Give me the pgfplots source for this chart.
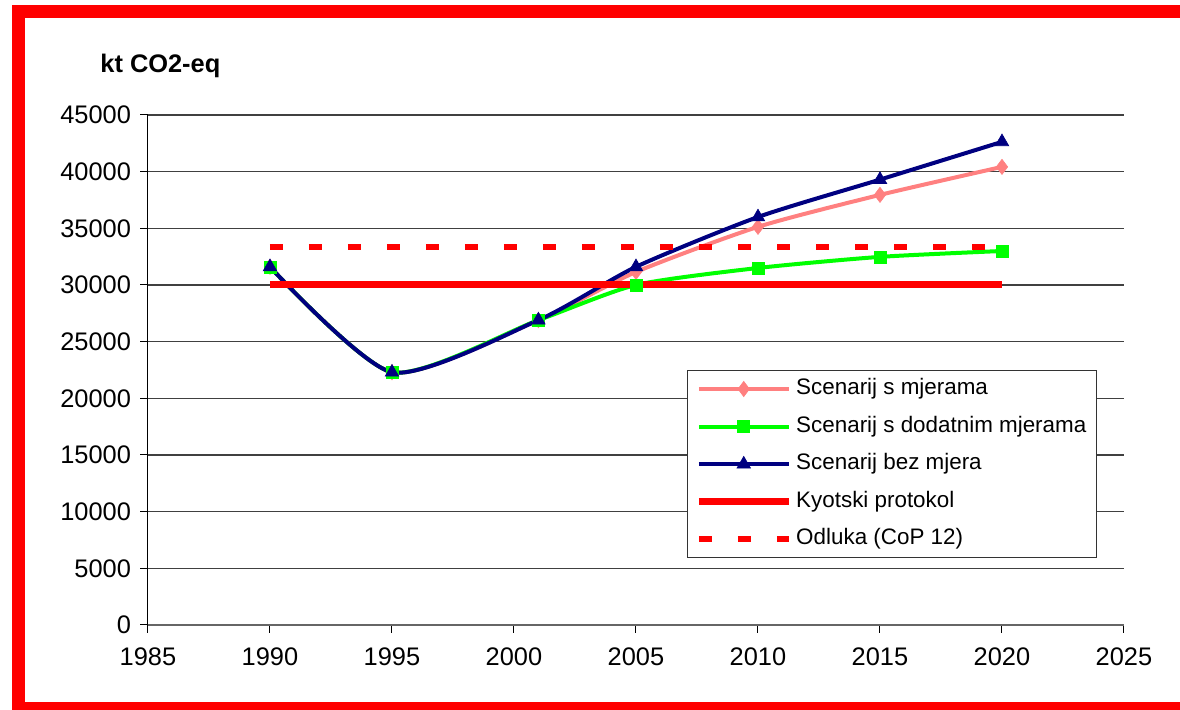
\documentclass[border=0pt]{standalone}
\usepackage{pgfplots}
\pgfplotsset{compat=1.18}
\usepackage{fontspec}
\setmainfont{Liberation Sans}
\definecolor{cpink}{HTML}{FF8080}
\definecolor{cgreen}{HTML}{00FF00}
\definecolor{cnavy}{HTML}{000080}
\definecolor{cred}{HTML}{FF0000}
\begin{document}
\begin{tikzpicture}
\path[use as bounding box] (0pt,0pt) rectangle (590pt,355pt);
% red frame
\fill[cred] (6pt,0pt) rectangle (12.5pt,352.5pt);
\fill[cred] (6pt,352.5pt) rectangle (590pt,346pt);
\fill[cred] (6pt,0pt) rectangle (590pt,4pt);
\node[anchor=base west, inner sep=0pt, font=\fontsize{12.7}{15}\selectfont\bfseries] at (50pt,318.5pt) {kt CO2-eq};
\begin{axis}[
  at={(74pt,42.5pt)}, anchor=south west,
  scale only axis, width=488pt, height=255pt,
  xmin=1985, xmax=2025, ymin=0, ymax=45000,
  xtick={1985,1990,...,2025},
  ytick={0,5000,...,45000},
  axis x line*=bottom, axis y line*=left,
  x axis line style={black!60, line width=0.7pt},
  y axis line style={black, line width=0.5pt},
  tick align=outside, major tick length=4pt,
  tick style={black, line width=0.5pt},
  ymajorgrids, major grid style={black!75, line width=0.6pt},
  /pgf/number format/assume math mode=true,
  /pgf/number format/1000 sep={},
  scaled y ticks=false,
  tick label style={font=\fontsize{12.7}{15}\selectfont},
  xticklabel style={yshift=-4pt},
  yticklabel style={xshift=-1pt},
  clip=false,
  legend style={at={(0.552,0.5)}, anchor=north west, draw=black!80, line width=0.5pt,
    font=\fontsize{11.2}{13}\selectfont, row sep=6.3pt, inner xsep=4pt, inner ysep=3pt,
    nodes={inner sep=1pt, text height=8pt, text depth=2.5pt},
    /tikz/every odd column/.append style={column sep=1pt}},
  legend cell align=left,
  legend image code/.code={\draw[mark repeat=2,mark phase=2] plot coordinates {(0pt,0pt) (22.5pt,0pt) (45pt,0pt)};},
]
\addplot[cpink, line width=2pt, smooth, tension=0.4, mark=diamond*, mark size=3.8pt, mark options={solid, fill=cpink, draw=cpink, line width=0.3pt}]
  coordinates {(1990,31600) (1995,22300) (2001,26900) (2005,31150) (2010,35130) (2015,37950) (2020,40420)};
\addlegendentry{Scenarij s mjerama}
\addplot[cgreen, line width=2pt, smooth, tension=0.4, mark=square*, mark size=3pt, mark options={solid, fill=cgreen, draw=cgreen, line width=0.3pt}]
  coordinates {(1990,31600) (1995,22300) (2001,26900) (2005,30000) (2010,31500) (2015,32480) (2020,33000)};
\addlegendentry{Scenarij s dodatnim mjerama}
\addplot[cnavy, line width=2pt, smooth, tension=0.4, mark=triangle*, mark size=3.9pt, mark options={solid, fill=cnavy, draw=cnavy, line width=0.3pt}]
  coordinates {(1990,31600) (1995,22300) (2001,26900) (2005,31600) (2010,36000) (2015,39300) (2020,42630)};
\addlegendentry{Scenarij bez mjera}
\addplot[cred, line width=3.5pt, no markers]
  coordinates {(1990,30000) (2020,30000)};
\addlegendentry{Kyotski protokol}
\addplot[cred, line width=3pt, no markers, dash pattern=on 6.5pt off 13pt]
  coordinates {(1990,33350) (2020,33350)};
\addlegendentry{Odluka (CoP 12)}
\end{axis}
\end{tikzpicture}
\end{document}
